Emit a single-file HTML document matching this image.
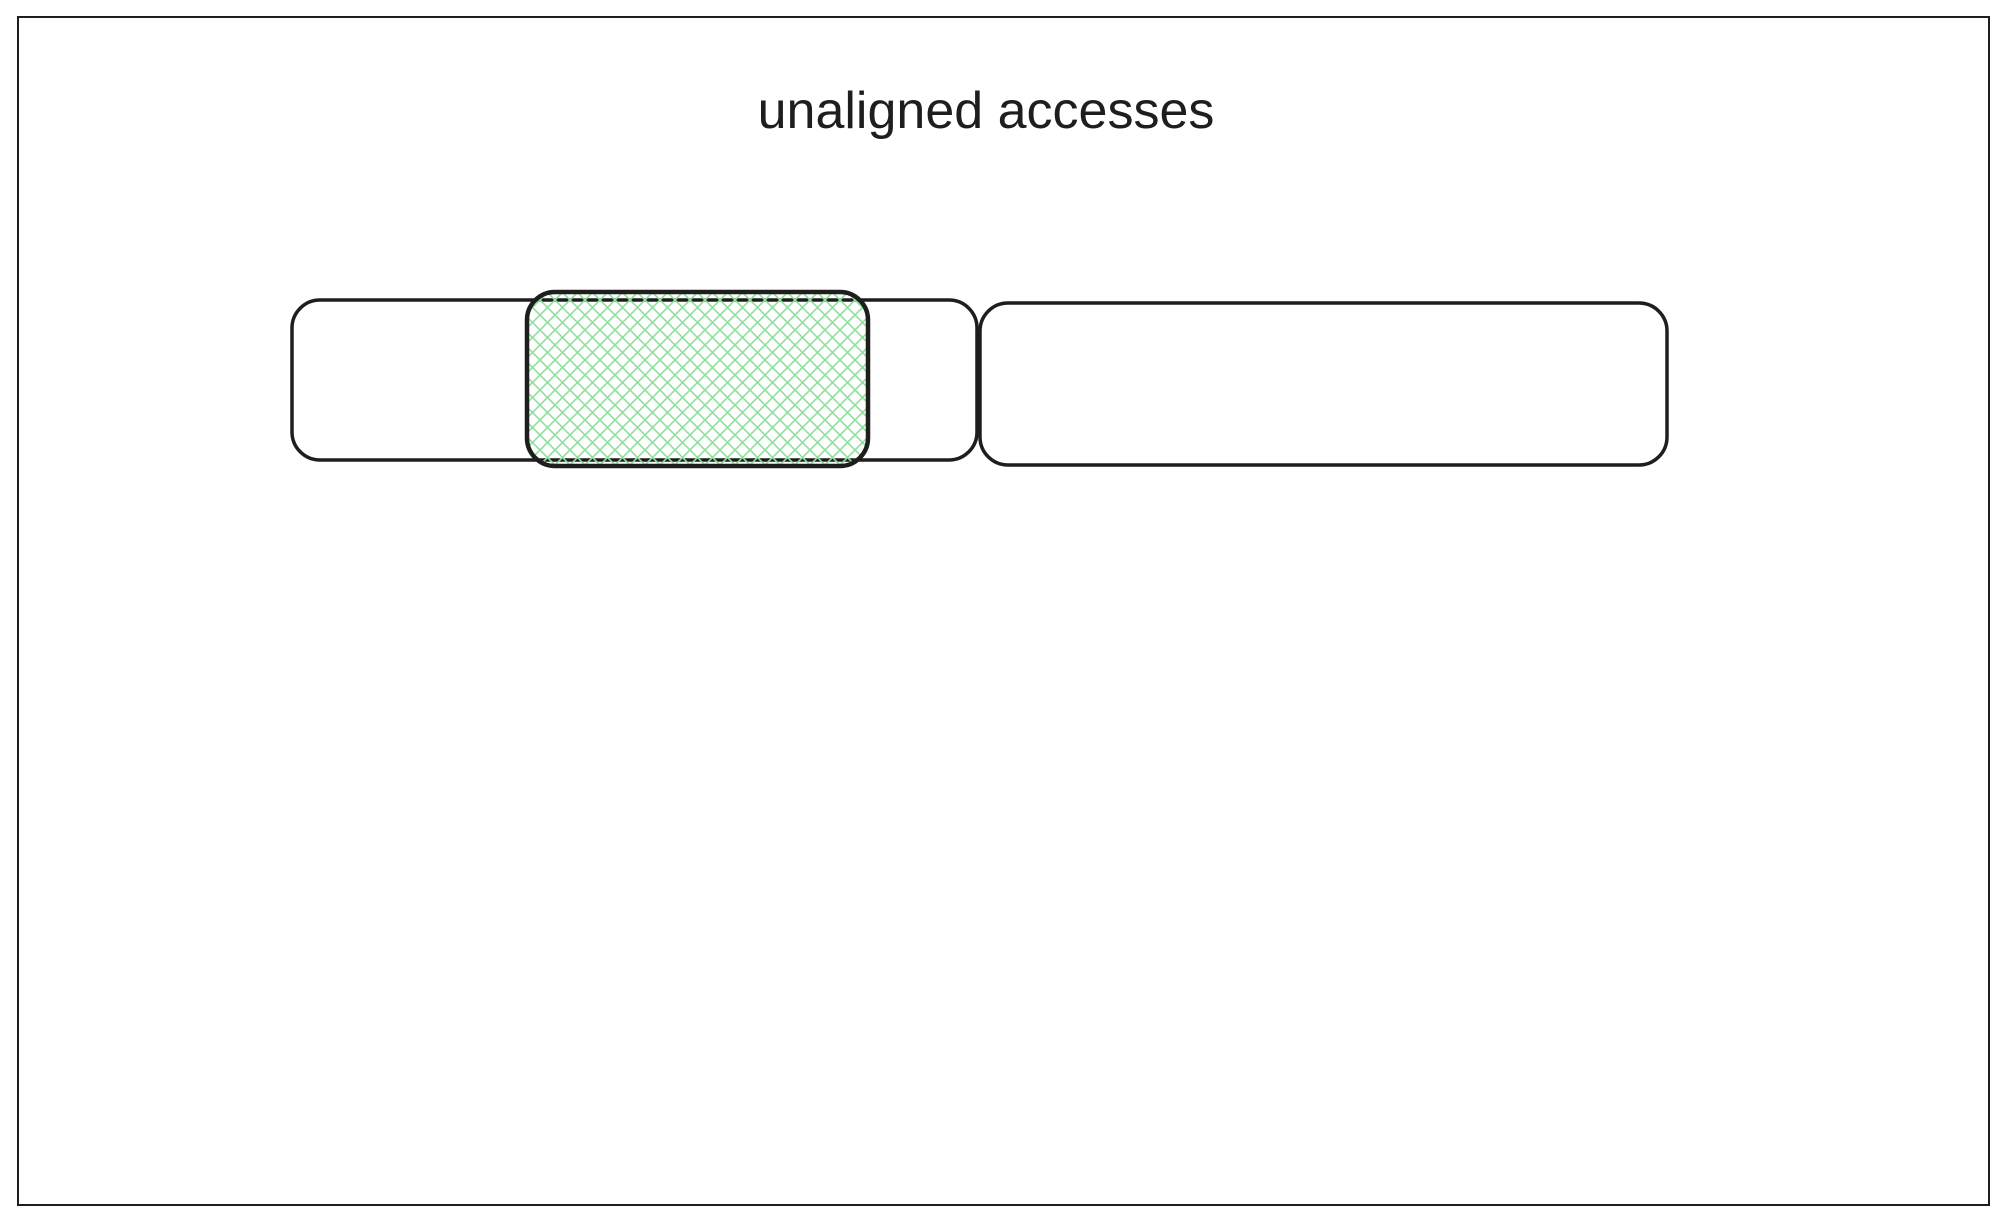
<!DOCTYPE html>
<html>
<head>
<meta charset="utf-8">
<style>
  html,body{margin:0;padding:0;background:#fff;}
  body{width:2008px;height:1226px;position:relative;overflow:hidden;}
  svg{position:absolute;left:0;top:0;}
</style>
</head>
<body>
<svg width="2008" height="1226" viewBox="0 0 2008 1226">
  <defs>
    <pattern id="hatch" width="15" height="15" patternUnits="userSpaceOnUse">
      <path d="M0,0 L15,15 M15,0 L0,15" stroke="#8ee09a" stroke-width="1.6" fill="none"/>
    </pattern>
  </defs>
  <rect x="18" y="17" width="1971" height="1188" fill="#fff" stroke="#1e1e1e" stroke-width="2"/>
  <text x="986" y="128" text-anchor="middle" font-family="'Liberation Sans', sans-serif" font-size="52" fill="#1e1e1e">unaligned accesses</text>
  <rect x="292" y="300" width="685" height="160" rx="28" fill="#fff" stroke="#1e1e1e" stroke-width="3.5"/>
  <rect x="980" y="303" width="687" height="162" rx="28" fill="#fff" stroke="#1e1e1e" stroke-width="3.5"/>
  <rect x="527" y="292" width="341" height="174" rx="28" fill="url(#hatch)" stroke="#1e1e1e" stroke-width="4.5"/>
</svg>
</body>
</html>
